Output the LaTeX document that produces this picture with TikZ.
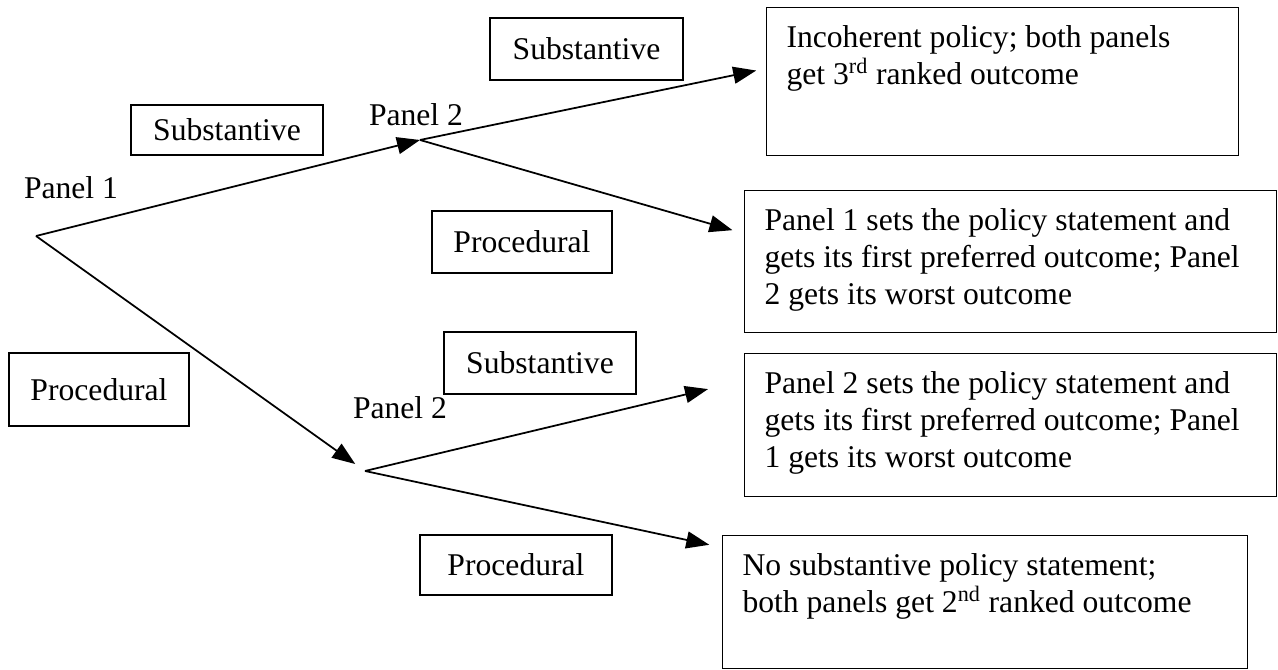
\documentclass[tikz,border=0pt]{standalone}
\usepackage{fontspec}
\setmainfont{Liberation Serif}
\usepackage{tikz}
\usetikzlibrary{arrows.meta,positioning}

\tikzset{
	every node/.style={font=\fontsize{18}{21}\selectfont},
	lab/.style={draw,line width=0.6pt,inner sep=0pt},
	outcome/.style={draw,line width=0.6pt,anchor=north west,inner xsep=0.4cm,inner ysep=0.36cm},
	move/.style={line width=1pt,-{Triangle[length=0.46cm,width=0.34cm]}}
}

\begin{document}
\begin{tikzpicture}[scale=1]
\useasboundingbox (0,0) rectangle (25.56,13.4);
%
\coordinate (root) at (0.72,8.68);
\coordinate (vu) at (8.4,10.6);
\coordinate (vl) at (7.3,3.98);
%
\node (p1) at (1.42,9.64) {Panel 1};
\node (p2u) at (8.32,11.1) {Panel 2};
\node (p2l) at (8.0,5.24) {Panel 2};
%
\node[lab,minimum width=3.84cm,minimum height=1cm] (sa) at (4.54,10.8) {Substantive};
\node[lab,minimum width=3.86cm,minimum height=1.24cm] (sb) at (11.73,12.42) {Substantive};
\node[lab,minimum width=3.6cm,minimum height=1.24cm] (pa) at (10.44,8.56) {Procedural};
\node[lab,minimum width=3.6cm,minimum height=1.46cm] (pb) at (1.98,5.61) {Procedural};
\node[lab,minimum width=3.84cm,minimum height=1.24cm] (sc) at (10.8,6.14) {Substantive};
\node[lab,minimum width=3.84cm,minimum height=1.2cm] (pc) at (10.32,2.1) {Procedural};
%
\node[outcome] (oa) at (15.32,13.26) {\parbox[t][2.24cm][t]{8.64cm}{\raggedright
	Incoherent policy; both panels\\ get 3\textsuperscript{rd} ranked outcome}};
\node[outcome] (ob) at (14.88,9.6) {\parbox[t][2.12cm][t]{9.84cm}{\raggedright
	Panel 1 sets the policy statement and\\ gets its first preferred outcome; Panel\\ 2 gets its worst outcome}};
\node[outcome] (oc) at (14.88,6.34) {\parbox[t][2.14cm][t]{9.84cm}{\raggedright
	Panel 2 sets the policy statement and\\ gets its first preferred outcome; Panel\\ 1 gets its worst outcome}};
\node[outcome] (od) at (14.44,2.7) {\parbox[t][1.94cm][t]{9.7cm}{\raggedright
	No substantive policy statement;\\ both panels get 2\textsuperscript{nd} ranked outcome}};
%
\draw[move] (root) -- (vu);
\draw[move,shorten >=0.24cm] (root) -- (vl);
\draw[move,shorten >=0.2cm] (vu) -- ([yshift=0.26cm]oa.west);
\draw[move,shorten >=0.24cm] (vu) -- ([yshift=0.56cm]ob.west);
\draw[move,shorten >=0.74cm] (vl) -- ([yshift=0.89cm]oc.west);
\draw[move,shorten >=0.26cm] (vl) -- ([yshift=1.09cm]od.west);
\end{tikzpicture}
\end{document}
